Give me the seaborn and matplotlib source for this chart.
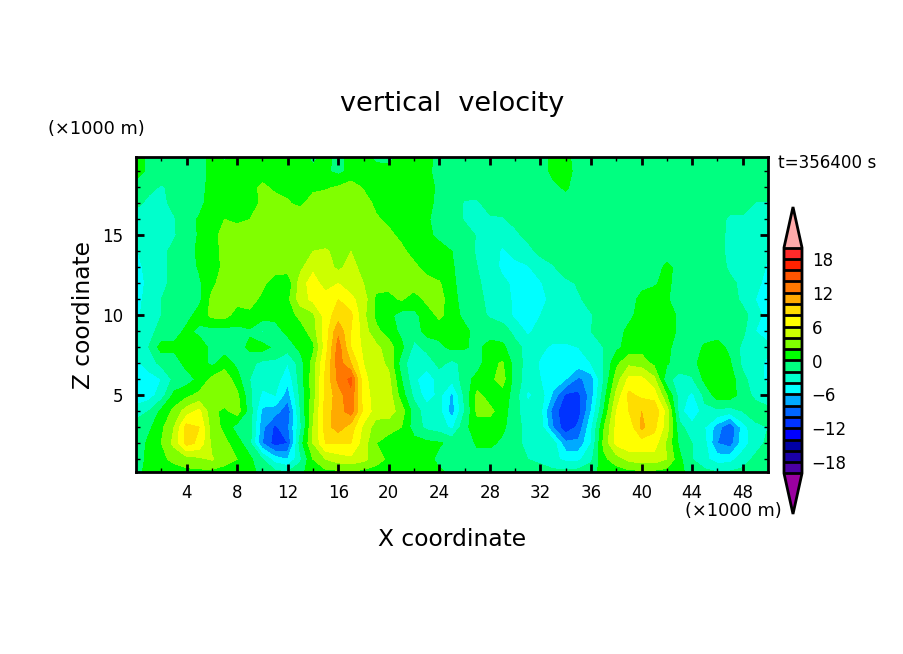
import numpy as np
import matplotlib
matplotlib.use("Agg")
import matplotlib.pyplot as plt
import seaborn as sns

# axes values
x_km = list(range(0, 51))
z_km = [0.2, 1, 2, 3, 4, 5, 6, 7, 8, 9, 10, 11, 12, 13, 14, 15, 16, 17, 18, 19, 19.9]

# vertical velocity, one list per height, x = 0..50 km
w_z00 = [-0.5, 0.5, 1, 1, 1.5, 1.5, 1.5, 1, 1, 0.5, -0.5, -1.5, -2, -0.5, 1, 1.5, 1.5, 1.5, 1.5, 1, 1, 1, 1, 0.8, 0.3, -0.5,
         -0.8, -0.8, -0.8, -1, -1, -1.2, -1.2, -1.5, -1.5, -1.2, -0.5, 0.5, 1, 1.5, 1.5, 1.5, 1.2, 0.5, -0.8, -1.5, -2, -1.8, -1.5, -1, -0.8]
w_z01 = [-1, 0.5, 1.5, 2.5, 3, 3.5, 4.2, 3, 2, 0.5, -2, -5, -6, -2.5, 2, 4, 5, 5.5, 4.5, 3, 1.5, 1.2, 1, 0.6, -0.5, -1,
         -1, -1.2, -1.2, -1.5, -1.8, -2, -2.5, -3.5, -4.5, -4.5, -2.5, 1.5, 3, 4.5, 5, 5, 4, 0.5, -2, -3.5, -5, -4.8, -3, -1.5, -1]
w_z02 = [-1.5, 0.5, 2, 4.5, 8.8, 7.5, 3.5, 2.5, 1, -1.5, -8, -11, -10, -1, 4, 8, 8, 8, 5, 2, 1, 1.2, 0.8, 0.5, 0.2, -0.5,
         -2, 0.5, 0.5, -0.5, -1.5, -2.5, -2, -3, -7.5, -7.5, -4, 2.5, 6.5, 7.5, 7, 7, 3.5, -0.5, -2, -3.5, -8, -9, -5, -3, -1.5]
w_z03 = [-1, -0.5, 1.5, 4, 8.8, 8, 3, 1.5, -1, -1, -7.5, -10.5, -8.5, -2.5, 4, 9, 11, 9, 5.5, 3, 2.8, 2, -1, -2.5, -3, -4.5,
         -0.5, 1, 1, 0.5, -1.5, -2.5, -3, -8, -11.5, -9.5, -4.5, 1.8, 6.5, 6.5, 10.5, 8.5, 5, -1.5, -3, -4, -7, -10, -5, -2.5, -2]
w_z04 = [-3, -2, 0.5, 2.5, 5, 6.5, 2.5, 1.5, 3, -1, -6.5, -7, -9.5, -2, 3.5, 9, 11, 13, 7.5, 5, 5, 3, -1, -3, -3.5, -7,
         -2, 2.5, 2.5, 1, -1.5, -3, -3.5, -9, -11.5, -11, -6, 0, 6, 8, 10, 9.8, 5, -3, -6.3, -2.5, -2.5, -3, -2, -1, -1.5]
w_z05 = [-5.5, -5, -3, 0.5, 1.5, 2.5, 3.5, 3.5, 2.5, -1.5, -4.5, -4, -7, -1.5, 3, 8.5, 11, 13.5, 7, 5, 5, 1, -2.5, -5, -3.5, -6.5,
         -1.5, 2.5, 1.2, 1.2, -1, -4.5, -3, -6.5, -10.5, -10.5, -7, -1, 4.5, 8.5, 7.5, 7, 2, -3, -4.5, -1.5, 1, 1, -1, -2.5, -3]
w_z06 = [-5, -5, -4, -1.5, -1, 0.5, 2.5, 3.5, 0.8, -2, -3, -3, -5.5, -1, 3, 8.5, 12.5, 14.5, 6.5, 5, 4.5, 0, -3.5, -5.5, -3, -3.5,
         -1, 0.8, 1.5, 2.8, -1, -3, -4, -5, -6, -8.5, -7, -2, 3, 6.5, 6.5, 4.5, -1.5, -2.7, -2.2, 0.5, 1.2, 1, -1.5, -3, -4.5]
w_z07 = [-4.5, -3, -1.5, -1.2, 0.8, 0.8, -0.5, 1, -0.5, -1.5, -2.5, -2.5, -4, -1, 2.8, 8, 13, 10, 6, 5, 3.5, -1, -3.5, -3, -1.5, -2.5,
         -1.5, -1, 1.5, 2.2, -1, -2.8, -4.3, -5, -5, -5, -4, -2, 1.5, 3.5, 3, 1.5, 0.2, -1, -1, 1.5, 1.5, 0.2, -2.5, -3, -4.5]
w_z08 = [-3, -2, 0.8, 0.5, 1, 1, -0.5, -1, -1, 0.5, 0.8, -0.5, -1, 0.5, 1.5, 7, 13, 8, 5.5, 4.5, 3, 0.5, -2.5, -1.5, -0.5, 0.5,
         0.2, -0.5, 0.8, 0.5, -1.5, -2.5, -3.5, -4.5, -4.5, -4, -2.7, -2, -0.5, 0.8, 1.2, 1.2, 0.5, -1, -1, 0.3, 0.8, -0.5, -2.5, -3, -3.5]
w_z09 = [-3, -2.5, -1.5, -1, 0.5, -0.5, -0.7, -0.8, -0.5, -0.3, -2.2, -0.8, 0.5, 1, 3, 7, 11.5, 8, 5, 2.5, 1, -0.5, -1.2, 0.8, 0.7, 1,
         0.5, -0.8, -1, -1.2, -2.5, -4.5, -3, -2.5, -2.5, -2.3, -2, -1, -0.8, 0.5, 1, 1.2, 1.2, -0.5, -1, -1, -1, -1, -1.5, -4, -5]
w_z10 = [-4.5, -3, -2, -1, -0.7, 0.8, 2.5, 2.8, 1, 1.5, 1, 0.5, 1.2, 2.5, 3.5, 7, 9, 8.5, 4.5, 1.5, 0.5, -0.8, -0.5, 0.8, 2.5, 0.8,
         -0.5, -1.5, -2.2, -2.8, -4.5, -5, -4, -2.6, -2.4, -2.3, -2.1, -1.5, -1.2, -0.5, 0.8, 1.2, 1.2, -0.5, -1, -1, -1, -1, -1.3, -3, -5]
w_z11 = [-5, -3, -2, -1, -0.8, -0.5, 2.5, 3, 2.8, 2.8, 1.5, 1, 1.5, 5, 6.5, 7, 8, 6.5, 5, 1.5, 1.5, 2.2, 1, 2.5, 2.8, 0.8,
         -1, -1.5, -2.5, -3, -4.5, -5, -5, -3, -2.3, -2.2, -1.5, -1, -1, -0.8, 0.5, 0.8, 0.2, -1, -1, -1, -1, -1, -2.5, -4, -5]
w_z12 = [-5, -3.5, -2.5, -1.5, -1, -0.3, 1.5, 3, 3, 3, 2.5, 0.8, 0.5, 5, 7, 5, 6, 5, 4, 2.8, 2.5, 2.8, 3, 2.8, 2.2, 0.5,
         -1.2, -1.8, -2.5, -3.5, -4.5, -4.8, -4.2, -2.8, -2.5, -1.8, -1, -1, -1, -0.9, -0.5, -0.2, 0.5, -1, -1, -1, -1, -1.5, -2.5, -3.2, -5]
w_z13 = [-4.5, -3.5, -2.5, -1.5, -1, 0.2, 1, 2.5, 2.2, 3, 3, 3, 3, 3.5, 5.5, 5, 3.5, 4.8, 3.2, 3, 3, 3, 2.5, 1.2, 0.8, 0.2,
         -1, -2, -2.8, -4.5, -5, -4.2, -3, -2.2, -1, -1, -1, -1, -1, -1, -1, -0.8, 0.4, -0.5, -1, -1, -1, -2.4, -2.8, -3.2, -4.2]
w_z14 = [-4.2, -3, -2.5, -1.5, -1, 0.5, 1.2, 2.5, 2.5, 2.7, 2.7, 2.8, 2.8, 3, 4, 4.2, 3.5, 4, 3, 3, 3, 2.5, 1.2, 0.8, 0.5, 0,
         -0.9, -2.3, -2.6, -4.5, -3, -2.6, -1.5, -1, -1, -1, -1, -1, -1, -1, -1, -1, -1, -1, -1, -1, -1, -2.8, -3, -3, -4]
w_z15 = [-3.5, -2.8, -2.5, -2.2, -1, 0.2, 1.5, 2.5, 2.5, 2.5, 2.7, 2.8, 2.8, 3.5, 3, 3, 3, 3, 2.8, 2.8, 2.5, 1.5, 0.8, 0.3, -0.3, -0.8,
         -1, -2.2, -2.6, -2.8, -2.4, -1.5, -1, -1, -1, -1, -1, -1, -1, -1, -1, -1, -1, -1, -1, -1, -1.3, -2.5, -2.7, -2.7, -2.5]
w_z16 = [-3, -2.6, -2.5, -2.2, -0.8, 0.2, 1.2, 2, 1.8, 2, 3, 3, 3, 3.5, 3, 3, 3, 3, 3, 2.3, 1.5, 0.8, 0.5, 0.2, -0.6, -0.8,
         -2.2, -2.5, -2.3, -2.2, -1.5, -1, -1, -1, -1, -1, -1, -1, -1, -1, -1, -1, -1, -1, -1, -1, -1, -2.5, -2.3, -2.3, -2.3]
w_z17 = [-1.5, -2.5, -2.5, -1.5, -1, -0.5, 0.8, 1, 1.2, 1.5, 2.2, 3, 2.2, 1.5, 3, 3, 3, 3, 3, 1.5, 1, 0.8, 0.6, 0.3, -0.3, -0.8,
         -2.3, -2.3, -1.2, -1, -1, -1, -1, -1, -1, -1, -1, -1, -1, -1, -1, -1, -1, -1, -1, -1, -1, -1, -1.3, -2.1, -2.1]
w_z18 = [-1, -1.5, -2.2, -1.5, -1, -0.5, 0.5, 0.8, 1, 1.2, 2.5, 1.5, 1.5, 1.5, 1.5, 1.8, 2.2, 3, 1.8, 1, 0.8, 0.8, 0.7, 0.5, -0.3, -0.6,
         -0.8, -1, -1, -1, -1, -1, -1, -0.5, 0.3, -1, -1, -1, -1, -1, -1, -1, -1, -1, -1, -1, -1, -1, -1, -1, -1]
w_z19 = [1, -0.5, -1, -1, -1, -0.8, 0.5, 0.8, 0.8, 0.8, 0.8, 0.8, 0.8, 0.8, 0.5, 0.3, -0.5, 0.5, 0.8, 0.8, 0.5, 0.6, 0.5, 0.3, -0.5, -0.8,
         -0.9, -1, -1, -1, -1, -1, -1, 0.5, 0.8, -0.8, -1, -1, -1, -1, -1, -1, -1, -1, -1, -1, -1, -1, -1, -1, -1]
w_z20 = [1.2, -0.5, -1, -1, -1, -0.7, 0.5, -0.3, 0.8, 0.8, 0.8, 0.8, 0.8, 0.8, -0.5, 0.5, -0.5, 0.5, 0.5, -0.5, -0.5, 0.5, 0.5, 0.5, -0.5, -1,
         -1, -1, -1, -1, -1, -1, -1, 0.5, 0.5, -0.8, -1, -1, -1, -1, -1, -1, -1, -1, -1, -1, -1, -1, -1, -1, -1]

levels = list(range(-20, 21, 2))
cbar_ticks = [-18, -12, -6, 0, 6, 12, 18]
band_colors = ["#9a00a0", "#4b00a5", "#1a00a8", "#0000a5", "#0000ff", "#0033ff", "#0066ff", "#00aaff",
               "#00ffff", "#00ffcc", "#00ff80", "#00ff00", "#80ff00", "#ccff00", "#ffff00", "#ffdd00",
               "#ffaa00", "#ff7700", "#ff5500", "#ff2200", "#ff2a2a", "#ffaaaa"]

sns.set_theme(style="ticks", rc={"axes.linewidth": 2, "axes.edgecolor": "black", "axes.axisbelow": False,
                                 "text.color": "black", "axes.labelcolor": "black",
                                 "xtick.color": "black", "ytick.color": "black"})
plt.rcParams["font.family"] = ["DejaVu Sans"]

w = np.array([w_z00, w_z01, w_z02, w_z03, w_z04, w_z05, w_z06, w_z07, w_z08, w_z09, w_z10,
              w_z11, w_z12, w_z13, w_z14, w_z15, w_z16, w_z17, w_z18, w_z19, w_z20])

W, H = 904, 654
fig = plt.figure(figsize=(W / 100, H / 100), dpi=100)
ax = fig.add_axes([136 / W, 1 - 472 / H, 632 / W, 315 / H])
cf = ax.contourf(x_km, z_km, w, levels=levels, colors=list(sns.color_palette(band_colors)),
                 extend="both", antialiased=False)
ax.set_xlim(0, 50)
ax.set_ylim(0.2, 19.9)
ax.set_xticks(range(4, 49, 4))
ax.set_xticks(range(2, 50, 4), minor=True)
ax.set_yticks([5, 10, 15])
ax.set_yticks([z for z in range(1, 20) if z % 5], minor=True)
ax.tick_params(which="major", direction="in", top=True, right=True, length=6, width=2, labelsize=12, pad=9)
ax.tick_params(which="minor", direction="in", top=True, right=True, length=3, width=1)
sns.despine(ax=ax, top=False, right=False)

fig.text(452 / W, 1 - 104 / H, "vertical  velocity", ha="center", va="center", fontsize=19.5)
fig.text(452 / W, 1 - 539 / H, "X coordinate", ha="center", va="center", fontsize=16.8)
fig.text(83 / W, 1 - 315 / H, "Z coordinate", ha="center", va="center", rotation=90, fontsize=16.8)
fig.text(96 / W, 1 - 129 / H, "(×1000 m)", ha="center", va="center", fontsize=12.8)
fig.text(733 / W, 1 - 511 / H, "(×1000 m)", ha="center", va="center", fontsize=12.8)
fig.text(827 / W, 1 - 163 / H, "t=356400 s", ha="center", va="center", fontsize=12.1)

# the colorbar axes holds the two arrow ends as well
cax = fig.add_axes([784 / W, 1 - 514 / H, 18 / W, 307 / H])
cbar = fig.colorbar(cf, cax=cax, ticks=cbar_ticks, extend="both", extendfrac=0.18, drawedges=True)
cbar.dividers.set_color("black")
cbar.dividers.set_linewidth(2)
cbar.outline.set_linewidth(2)
cbar.outline.set_edgecolor("black")
cbar.ax.tick_params(length=0, labelsize=12, pad=7)

fig.savefig("out.png", dpi=100)
